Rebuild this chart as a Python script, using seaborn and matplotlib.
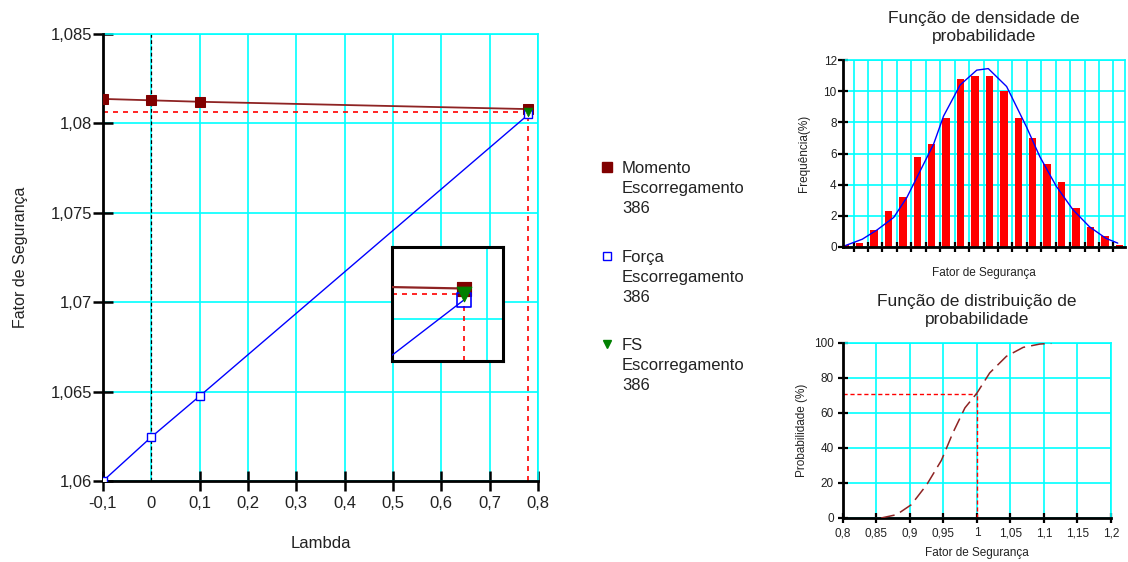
import numpy as np
import pandas as pd
import matplotlib
matplotlib.use("Agg")
import matplotlib.pyplot as plt
from matplotlib.lines import Line2D
from matplotlib.ticker import FuncFormatter
import seaborn as sns

# ---------------- data ----------------
lambda_vals = [-0.1, 0.0, 0.1, 0.78]
momento_fs = [1.08137, 1.08129, 1.08121, 1.0808]
forca_fs = [1.0600, 1.06246, 1.06475, 1.0805]
fs_lambda = [0.78]
fs_value = [1.08065]

x_ticks_main = [-0.1, 0.0, 0.1, 0.2, 0.3, 0.4, 0.5, 0.6, 0.7, 0.8]
y_ticks_main = [1.06, 1.065, 1.07, 1.075, 1.08, 1.085]

hist_bins = list(range(20))
hist_freq = [0.1, 0.25, 1.1, 2.3, 3.2, 5.8, 6.6, 8.3, 10.8, 11.0,
             11.0, 10.0, 8.3, 7.0, 5.3, 4.2, 2.5, 1.3, 0.7, 0.15]
pdf_x = [0.45, 1.6, 2.63, 3.78, 4.7, 5.62, 6.54, 7.23, 8.38, 9.53,
         10.33, 11.6, 12.98, 13.9, 15.04, 16.19, 17.34, 18.49, 19.3]
pdf_y = [0.1, 0.5, 1.1, 1.9, 3.2, 4.9, 6.6, 8.4, 10.4, 11.35,
         11.45, 10.3, 7.7, 5.8, 3.9, 2.4, 1.3, 0.55, 0.25]

cdf_x = [0.857, 0.880, 0.902, 0.925, 0.947, 0.964, 0.982, 1.0, 1.019,
         1.044, 1.069, 1.094, 1.111]
cdf_y = [0.0, 1.9, 7.6, 19.0, 33.0, 48.6, 62.9, 71.4, 82.9, 92.4,
         97.5, 99.4, 99.8]
cdf_ref_x = [1.0]
cdf_ref_y = [71.0]
cdf_xticks = [0.8, 0.85, 0.9, 0.95, 1.0, 1.05, 1.1, 1.15, 1.2]
cdf_yticks = [0, 20, 40, 60, 80, 100]
hist_yticks = [0, 2, 4, 6, 8, 10, 12]

legend_labels = ["Momento\nEscorregamento\n386",
                 "Força\nEscorregamento\n386",
                 "FS\nEscorregamento\n386"]

# ---------------- style ----------------
sns.set_theme(style="white")
plt.rcParams["font.family"] = ["Liberation Sans", "DejaVu Sans"]
plt.rcParams["axes.unicode_minus"] = False

CYAN = "#00FFFF"
BROWN = "#8E2323"
DARKRED = "#800000"
BLUE = "#0000FF"
GREEN = "#008000"
RED = "#FF0000"
TXT = "#222222"


def comma_fmt(v, pos=None):
    s = ("%.3f" % v).rstrip("0").rstrip(".")
    if s == "-0":
        s = "0"
    return s.replace(".", ",")


def style_axes(ax, spine_w, tick_len, tick_w, labelsize, pad):
    for side in ["top", "right"]:
        ax.spines[side].set_color(CYAN)
        ax.spines[side].set_linewidth(1.2)
    for side in ["left", "bottom"]:
        ax.spines[side].set_color("black")
        ax.spines[side].set_linewidth(spine_w)
        ax.spines[side].set_zorder(3)
    ax.tick_params(axis="both", which="major", direction="inout",
                   length=tick_len, width=tick_w, color="black",
                   labelsize=labelsize, labelcolor=TXT, pad=pad,
                   bottom=True, left=True, top=False, right=False)
    ax.grid(True, color=CYAN, linewidth=1.2)
    ax.set_axisbelow(True)
    ax.set_facecolor("white")


fig = plt.figure(figsize=(11.28, 5.62), dpi=100)
fig.patch.set_facecolor("white")

# ---------------- main chart ----------------
ax = fig.add_axes([0.0913, 0.1441, 0.3857, 0.7954])
style_axes(ax, 2.0, 14, 1.8, 12, 1)
ax.tick_params(axis="x", pad=4)

df_m = pd.DataFrame({"lambda": lambda_vals, "fs": momento_fs})
df_f = pd.DataFrame({"lambda": lambda_vals, "fs": forca_fs})

ax.axvline(0.0, color="black", linestyle=(0, (3, 2)), linewidth=0.9, zorder=2)
ax.plot([x_ticks_main[0], fs_lambda[0]], [fs_value[0], fs_value[0]],
        color=RED, linestyle=(0, (3, 3)), linewidth=1.2, zorder=2)
ax.plot([fs_lambda[0], fs_lambda[0]], [y_ticks_main[0], fs_value[0]],
        color=RED, linestyle=(0, (3, 3)), linewidth=1.2, zorder=2)

sns.lineplot(data=df_m, x="lambda", y="fs", ax=ax, color=BROWN, linewidth=1.3,
             marker="s", markersize=7, markerfacecolor=DARKRED,
             markeredgecolor=DARKRED, zorder=4, legend=False)
sns.lineplot(data=df_f, x="lambda", y="fs", ax=ax, color=BLUE, linewidth=1.0,
             marker="s", markersize=6, markerfacecolor="white",
             markeredgecolor=BLUE, markeredgewidth=1.0, zorder=4, legend=False)
sns.scatterplot(x=fs_lambda, y=fs_value, ax=ax, marker="v", s=40,
                color=GREEN, edgecolor=GREEN, zorder=5, legend=False)

ax.set_xlim(x_ticks_main[0], x_ticks_main[-1])
ax.set_ylim(y_ticks_main[0], y_ticks_main[-1])
ax.set_xticks(x_ticks_main)
ax.set_yticks(y_ticks_main)
ax.xaxis.set_major_formatter(FuncFormatter(comma_fmt))
ax.yaxis.set_major_formatter(FuncFormatter(comma_fmt))
ax.set_xlabel("Lambda", fontsize=12, color=TXT, labelpad=18)
ax.set_ylabel("Fator de Segurança", fontsize=11.5, color=TXT, labelpad=16)
# the tick at lambda = 0 is hidden by the dashed reference line in the original
ax.xaxis.get_major_ticks()[1].tick1line.set_visible(False)

# ---------------- inset (zoom) ----------------
axi = fig.add_axes([0.3475, 0.3577, 0.0984, 0.2028])
axi.set_facecolor("white")
axi.set_zorder(6)
for sp in axi.spines.values():
    sp.set_color("black")
    sp.set_linewidth(2.2)
axi.grid(False)
axi.set_xlim(0.7166, 0.8142)
axi.set_ylim(1.07888, 1.0819)
axi.axvline(0.8, color=CYAN, linewidth=1.2, zorder=1)
axi.axhline(1.08, color=CYAN, linewidth=1.2, zorder=1)
axi.plot([0.7166, fs_lambda[0]], [fs_value[0], fs_value[0]], color=RED,
         linestyle=(0, (3, 3)), linewidth=1.2, zorder=2)
axi.plot([fs_lambda[0], fs_lambda[0]], [1.07888, fs_value[0]], color=RED,
         linestyle=(0, (3, 3)), linewidth=1.2, zorder=2)
sns.lineplot(data=df_m, x="lambda", y="fs", ax=axi, color=BROWN, linewidth=1.6,
             zorder=3, legend=False)
sns.lineplot(data=df_f, x="lambda", y="fs", ax=axi, color=BLUE, linewidth=1.0,
             zorder=3, legend=False)
sns.scatterplot(x=lambda_vals[-1:], y=momento_fs[-1:], ax=axi, marker="s", s=110,
                color=DARKRED, edgecolor=DARKRED, zorder=4, legend=False)
sns.scatterplot(x=lambda_vals[-1:], y=forca_fs[-1:], ax=axi, marker="s", s=100,
                facecolor="none", edgecolor=BLUE, linewidth=1.2, zorder=4,
                legend=False)
sns.scatterplot(x=fs_lambda, y=fs_value, ax=axi, marker="v", s=110,
                color=GREEN, edgecolor=GREEN, zorder=5, legend=False)
axi.set_xticks([])
axi.set_yticks([])
axi.set_xlabel("")
axi.set_ylabel("")

# ---------------- legend ----------------
leg_markers = [dict(marker="s", mfc=DARKRED, mec=DARKRED, ms=7),
               dict(marker="s", mfc="white", mec=BLUE, ms=6, mew=1.0),
               dict(marker="v", mfc=GREEN, mec=GREEN, ms=6)]
leg_top = [167, 256, 344]
for lbl, mk, ty in zip(legend_labels, leg_markers, leg_top):
    yf = 1 - ty / 562
    fig.add_artist(Line2D([607 / 1128], [yf], transform=fig.transFigure,
                          linestyle="none", **mk))
    fig.text(622 / 1128, yf + 6 / 562, lbl, fontsize=12, color=TXT,
             va="top", ha="left", linespacing=1.42)

# ---------------- histogram (PDF) ----------------
axh = fig.add_axes([0.7473, 0.5605, 0.2500, 0.3327])
style_axes(axh, 2.0, 7, 1.6, 8.5, 1)
bar_pos = np.array(hist_bins) + 0.41
sns.barplot(x=bar_pos, y=hist_freq, ax=axh, native_scale=True, width=0.52,
            color=RED, saturation=1, edgecolor="none", zorder=3)
sns.lineplot(x=pdf_x, y=pdf_y, ax=axh, color=BLUE, linewidth=1.0, zorder=4,
             sort=False)
axh.set_xlim(0.26, 19.8)
axh.set_ylim(0, 12)
axh.set_xticks(list(range(1, 20)))
axh.set_xticklabels([])
axh.set_yticks(hist_yticks)
axh.set_yticklabels([str(v) for v in hist_yticks])
axh.set_xlabel("Fator de Segurança", fontsize=8.5, color=TXT, labelpad=10)
axh.set_ylabel("Frequência(%)", fontsize=8.5, color=TXT, labelpad=10)
axh.set_title("Função de densidade de\nprobabilidade", fontsize=12.5,
              color=TXT, linespacing=1.2, pad=14)

# ---------------- CDF ----------------
axc = fig.add_axes([0.7473, 0.0783, 0.2376, 0.3114])
style_axes(axc, 2.0, 7, 1.6, 8.5, 3)
axc.plot([cdf_xticks[0], cdf_ref_x[0]], [cdf_ref_y[0], cdf_ref_y[0]], color=RED,
         linestyle=(0, (3, 2)), linewidth=1.0, zorder=3)
axc.plot([cdf_ref_x[0], cdf_ref_x[0]], [0, cdf_ref_y[0]], color=RED,
         linestyle=(0, (3, 2)), linewidth=1.0, zorder=3)
sns.lineplot(x=cdf_x, y=cdf_y, ax=axc, color=BROWN, linewidth=1.1,
             linestyle=(0, (9, 4)), zorder=4, sort=False)
axc.set_xlim(cdf_xticks[0], cdf_xticks[-1])
axc.set_ylim(cdf_yticks[0], cdf_yticks[-1])
axc.set_xticks(cdf_xticks)
axc.set_yticks(cdf_yticks)
axc.xaxis.set_major_formatter(FuncFormatter(comma_fmt))
axc.set_yticklabels([str(v) for v in cdf_yticks])
axc.set_xlabel("Fator de Segurança", fontsize=8.5, color=TXT, labelpad=6)
axc.set_ylabel("Probabilidade (%)", fontsize=8.5, color=TXT, labelpad=4)
axc.set_title("Função de distribuição de\nprobabilidade", fontsize=12.5,
              color=TXT, linespacing=1.2, pad=14)

fig.savefig("out.png", dpi=100, facecolor="white")
